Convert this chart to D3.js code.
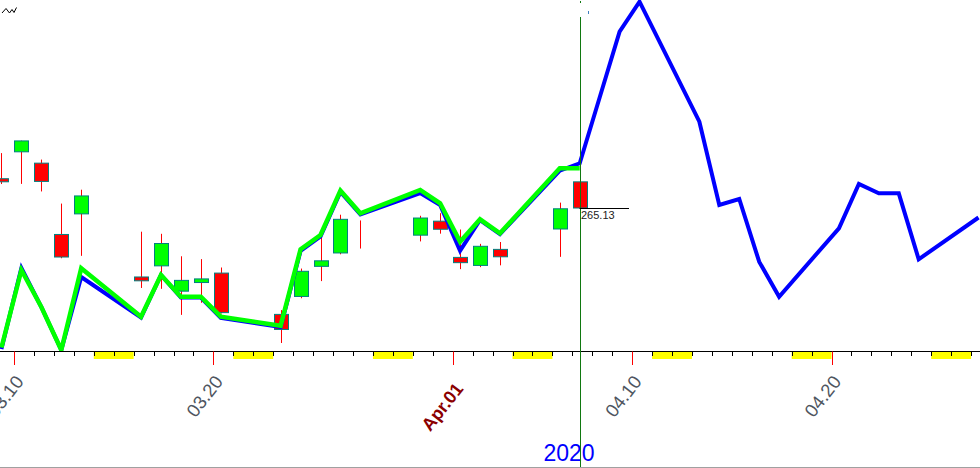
<!DOCTYPE html>
<html><head><meta charset="utf-8">
<script src="https://cdn.jsdelivr.net/npm/d3@7"></script>
<style>body{margin:0;background:#fff}svg{display:block;font-family:"Liberation Sans",Arial,sans-serif}</style>
</head><body><svg id="c" width="980" height="468"></svg>
<script>
// ---- data ----
const tradingDates = ["2020-03-09","2020-03-10","2020-03-11","2020-03-12","2020-03-13","2020-03-16","2020-03-17","2020-03-18","2020-03-19","2020-03-20","2020-03-23","2020-03-24","2020-03-25","2020-03-26","2020-03-27","2020-03-30","2020-03-31","2020-04-01","2020-04-02","2020-04-03","2020-04-06","2020-04-07"];
// 03-27 shows only a wick in the reference (no body drawn)
const opens  = [275.30,284.64,280.70,255.94,263.09,241.18,245.04,236.25,239.25,242.53,228.19,234.42,244.87,249.52,null,255.70,260.56,247.98,245.19,250.76,257.84,274.21];
const highs  = [284.19,288.52,281.94,266.66,271.48,256.90,256.17,248.37,247.38,244.47,229.68,244.10,256.35,262.80,260.81,262.43,263.33,257.66,252.68,253.32,267.00,275.03];
const lows   = [273.45,273.50,270.88,247.68,248.52,237.36,237.07,228.02,232.22,228.50,218.26,233.80,239.75,249.05,251.05,253.53,256.22,243.90,244.59,245.22,248.17,264.89];
const closes = [274.23,288.42,274.36,248.11,269.32,239.85,252.80,240.00,240.51,228.80,222.95,243.15,246.79,261.20,null,261.65,257.75,246.15,251.83,248.19,264.86,265.13];
const greenLine = [216.69,243.60,230.75,215.82,244.19,227.39,241.87,234.33,234.33,227.39,224.26,250.79,255.76,271.14,263.29,271.38,266.76,253.43,261.21,256.35,278.91,278.91];
const blueDates = tradingDates.concat(["2020-04-08","2020-04-09","2020-04-10","2020-04-13","2020-04-14","2020-04-15","2020-04-16","2020-04-17","2020-04-20","2020-04-21","2020-04-22","2020-04-23","2020-04-24","2020-04-27"]);
const blueLine = [216.17,244.30,230.75,215.82,241.17,227.11,241.87,234.05,234.05,226.94,223.81,250.20,255.23,270.69,262.87,270.34,266.17,250.30,260.96,256.10,278.08,280.65,
                  303.50,326.35,336.76,295.10,266.17,268.26,246.48,234.33,258.08,273.46,270.23,270.23,247.32,261.83];
const lastClose = 265.13;
const axisStart = "2020-03-08", axisEnd = "2020-05-01";
const labelDates = ["2020-03-10","2020-03-20","2020-04-01","2020-04-10","2020-04-20"];
const labelTexts = ["03.10","03.20","Apr.01","04.10","04.20"];
const yearLabel = "2020";

// ---- scales ----
const parse = d3.utcParse("%Y-%m-%d");
const DAY = 19.94;
const x = d3.scaleUtc().domain([parse("2020-03-10"), parse("2020-04-20")]).range([14, 14 + 41*DAY]);
const cOff = 7.4; // candle centre offset from day tick
const y = d3.scaleLinear().domain([265.13, 300]).range([208, 208 - 34.87*2.88]);

const svg = d3.select("#c");
const axisY = 351.5;

svg.append("defs").append("clipPath").attr("id","plot").append("rect").attr("x",0).attr("y",0).attr("width",980).attr("height",axisY);
const plot = svg.append("g").attr("clip-path","url(#plot)");

// candles
const candles = tradingDates.map((d,i)=>({d:parse(d),o:opens[i],h:highs[i],l:lows[i],c:closes[i]}));
plot.selectAll("line.wick").data(candles).join("line")
  .attr("x1",d=>Math.round(x(d.d)+cOff)+0.5).attr("x2",d=>Math.round(x(d.d)+cOff)+0.5)
  .attr("y1",d=>y(d.h)).attr("y2",d=>y(d.l)).attr("stroke","#ff0000").attr("stroke-width",1);
plot.selectAll("rect.body").data(candles.filter(d=>d.o!=null&&d.c!=null)).join("rect")
  .attr("x",d=>Math.round(x(d.d)+cOff)-6.5).attr("width",14)
  .attr("y",d=>y(Math.max(d.o,d.c))).attr("height",d=>Math.max(1,Math.abs(y(d.o)-y(d.c))))
  .attr("fill",d=>d.c>=d.o?"#00ff00":"#ff0000").attr("stroke","#008080").attr("stroke-width",1);

// lines
const lineGen = d3.line().x(d=>x(d[0])+cOff).y(d=>y(d[1]));
plot.append("path").datum(blueDates.map((d,i)=>[parse(d),blueLine[i]]))
  .attr("d",lineGen).attr("fill","none").attr("stroke","#0000ff").attr("stroke-width",4).attr("stroke-linejoin","miter");
plot.append("path").datum(tradingDates.map((d,i)=>[parse(d),greenLine[i]]))
  .attr("d",lineGen).attr("fill","none").attr("stroke","#00ff00").attr("stroke-width",4.5).attr("stroke-linejoin","miter");

// axis: weekends
const days = d3.utcDay.range(parse(axisStart), parse(axisEnd));
const sats = days.filter(d=>d.getUTCDay()===6);
svg.selectAll("rect.we").data(sats).join("rect")
  .attr("x",d=>x(d)).attr("width",d=>x(d3.utcDay.offset(d,2))-x(d)).attr("y",352).attr("height",7).attr("fill","#ffff00");
svg.append("line").attr("x1",0).attr("x2",980).attr("y1",axisY).attr("y2",axisY).attr("stroke","#000");
const labSet = new Set(labelDates);
const fmt = d3.utcFormat("%Y-%m-%d");
svg.selectAll("line.tk").data(days).join("line")
  .attr("x1",d=>Math.round(x(d))+0.5).attr("x2",d=>Math.round(x(d))+0.5)
  .attr("y1",axisY).attr("y2",d=>labSet.has(fmt(d))?365:356)
  .attr("stroke",d=>labSet.has(fmt(d))?"#ff0000":"#000");
labelDates.forEach((ld,i)=>{
  const tx = x(parse(ld));
  const month = labelTexts[i].indexOf("Apr")===0;
  svg.append("text").attr("text-anchor","end")
    .attr("transform",`translate(${tx+(month?11.5:10.5)},${month?389:382}) rotate(-52)`)
    .attr("font-size",month?18:18.5).attr("font-weight",month?"bold":"normal")
    .attr("fill",month?"#8b0000":"#4e5560").text(labelTexts[i]);
});
svg.append("text").attr("x",569).attr("y",461).attr("text-anchor","middle").attr("font-size",23).attr("fill","#0000ff").text(yearLabel);

// current bar marker
const lastX = Math.round(x(parse(tradingDates[tradingDates.length-1]))+cOff)+0.5;
svg.append("line").attr("x1",lastX).attr("x2",lastX).attr("y1",17).attr("y2",468).attr("stroke","#107810");
svg.append("rect").attr("x",lastX-0.5).attr("y",1).attr("width",1).attr("height",2).attr("fill","#107810");
svg.append("rect").attr("x",lastX+7.5).attr("y",11).attr("width",1).attr("height",3).attr("fill","#4080c0");
const ly = Math.round(y(lastClose))+0.5;
svg.append("line").attr("x1",lastX-1).attr("x2",629).attr("y1",ly).attr("y2",ly).attr("stroke","#000");
svg.append("text").attr("x",lastX+0.5).attr("y",ly+10.5).attr("font-size",11).attr("fill","#222").text(lastClose.toFixed(2));

// bottom border
svg.append("line").attr("x1",0).attr("x2",980).attr("y1",467.5).attr("y2",467.5).attr("stroke","#a0a0a0");
// small icon top-left
svg.append("path").attr("d","M2,13 L6,8.5 L9.5,13 L12,9.5 L14,12.5 L16.5,7.5").attr("fill","none").attr("stroke","#000").attr("stroke-width",1);
</script></body></html>
